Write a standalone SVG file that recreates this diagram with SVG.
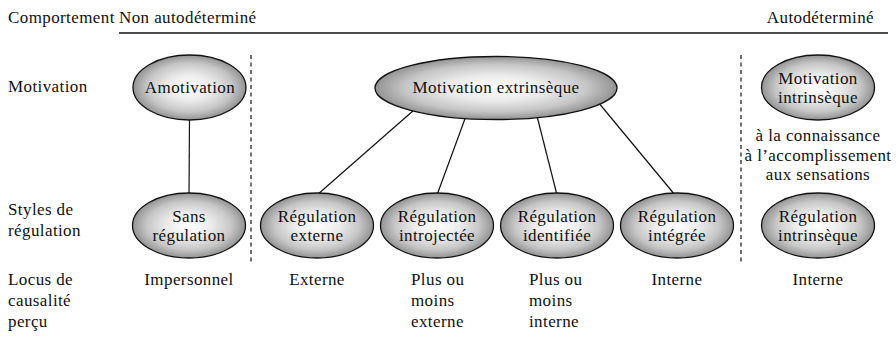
<svg xmlns="http://www.w3.org/2000/svg" width="896" height="341" viewBox="0 0 896 341">
  <defs>
    <radialGradient id="shade" cx="50%" cy="50%" r="50%">
      <stop offset="0%" stop-color="#ffffff"/>
      <stop offset="40%" stop-color="#ebebeb"/>
      <stop offset="75%" stop-color="#c6c6c6"/>
      <stop offset="100%" stop-color="#939393"/>
    </radialGradient>
  </defs>
  <style>
    text { font-family: "Liberation Serif", "Times New Roman", serif; font-size: 17px; letter-spacing: 0.4px; fill: #111111; }
    .c { text-anchor: middle; }
    .node { fill: url(#shade); stroke: #111111; stroke-width: 1.3; }
    .link { stroke: #111111; stroke-width: 1.2; fill: none; }
    .dash { stroke: #111111; stroke-width: 1.2; stroke-dasharray: 4 3.5; fill: none; }
    .rule { stroke: #111111; stroke-width: 1.3; }
  </style>
  <rect width="896" height="341" fill="#ffffff"/>

  <!-- header -->
  <g id="header">
    <text x="8" y="23">Comportement</text>
    <text x="119" y="23">Non autodéterminé</text>
    <text x="874" y="23" text-anchor="end">Autodéterminé</text>
    <line class="rule" x1="119" y1="33" x2="888" y2="33"/>
  </g>

  <!-- row labels -->
  <g id="row-labels">
    <text x="8" y="92">Motivation</text>
    <text x="8" y="215">Styles de</text>
    <text x="8" y="235.5">régulation</text>
    <text x="8" y="285">Locus de</text>
    <text x="8" y="306">causalité</text>
    <text x="8" y="327">perçu</text>
  </g>

  <!-- separators -->
  <g id="separators">
    <line class="dash" x1="251" y1="55" x2="251" y2="262"/>
    <line class="dash" x1="741" y1="55" x2="741" y2="262"/>
  </g>

  <!-- connectors -->
  <g id="connectors">
    <line class="link" x1="189.5" y1="118" x2="189" y2="195"/>
    <line class="link" x1="414" y1="110" x2="317" y2="195"/>
    <line class="link" x1="466" y1="116" x2="437" y2="195"/>
    <line class="link" x1="537" y1="116" x2="557" y2="195"/>
    <line class="link" x1="598" y1="102" x2="675" y2="195"/>
  </g>

  <!-- motivation row -->
  <g id="amotivation">
    <ellipse class="node" cx="189.5" cy="87.5" rx="56.5" ry="32.5"/>
    <text class="c" x="190" y="93">Amotivation</text>
  </g>
  <g id="motivation-extrinseque">
    <ellipse class="node" cx="496" cy="88" rx="121" ry="31.5"/>
    <text class="c" x="496" y="93">Motivation extrinsèque</text>
  </g>
  <g id="motivation-intrinseque">
    <ellipse class="node" cx="818" cy="87.5" rx="56.5" ry="32.5"/>
    <text class="c" x="818" y="84">Motivation</text>
    <text class="c" x="818" y="103">intrinsèque</text>
  </g>
  <g id="intrinseque-types">
    <text class="c" x="818" y="141">à la connaissance</text>
    <text class="c" x="818" y="160.5">à l’accomplissement</text>
    <text class="c" x="818" y="180">aux sensations</text>
  </g>

  <!-- regulation row -->
  <g id="sans-regulation">
    <ellipse class="node" cx="189" cy="225.5" rx="56.5" ry="32.5"/>
    <text class="c" x="189" y="222">Sans</text>
    <text class="c" x="189" y="241">régulation</text>
  </g>
  <g id="regulation-externe">
    <ellipse class="node" cx="317" cy="225.5" rx="56.5" ry="32.5"/>
    <text class="c" x="317" y="222">Régulation</text>
    <text class="c" x="317" y="241">externe</text>
  </g>
  <g id="regulation-introjectee">
    <ellipse class="node" cx="437" cy="225.5" rx="56.5" ry="32.5"/>
    <text class="c" x="437" y="222">Régulation</text>
    <text class="c" x="437" y="241">introjectée</text>
  </g>
  <g id="regulation-identifiee">
    <ellipse class="node" cx="557" cy="225.5" rx="56.5" ry="32.5"/>
    <text class="c" x="557" y="222">Régulation</text>
    <text class="c" x="557" y="241">identifiée</text>
  </g>
  <g id="regulation-integree">
    <ellipse class="node" cx="677" cy="225.5" rx="56.5" ry="32.5"/>
    <text class="c" x="677" y="222">Régulation</text>
    <text class="c" x="677" y="241">intégrée</text>
  </g>
  <g id="regulation-intrinseque">
    <ellipse class="node" cx="818" cy="225.5" rx="56.5" ry="32.5"/>
    <text class="c" x="818" y="222">Régulation</text>
    <text class="c" x="818" y="241">intrinsèque</text>
  </g>

  <!-- locus row -->
  <g id="locus">
    <text class="c" x="189" y="285">Impersonnel</text>
    <text class="c" x="317" y="285">Externe</text>
    <text x="411" y="285">Plus ou</text>
    <text x="411" y="306">moins</text>
    <text x="411" y="327">externe</text>
    <text x="529" y="285">Plus ou</text>
    <text x="529" y="306">moins</text>
    <text x="529" y="327">interne</text>
    <text class="c" x="677" y="285">Interne</text>
    <text class="c" x="818" y="285">Interne</text>
  </g>
</svg>
